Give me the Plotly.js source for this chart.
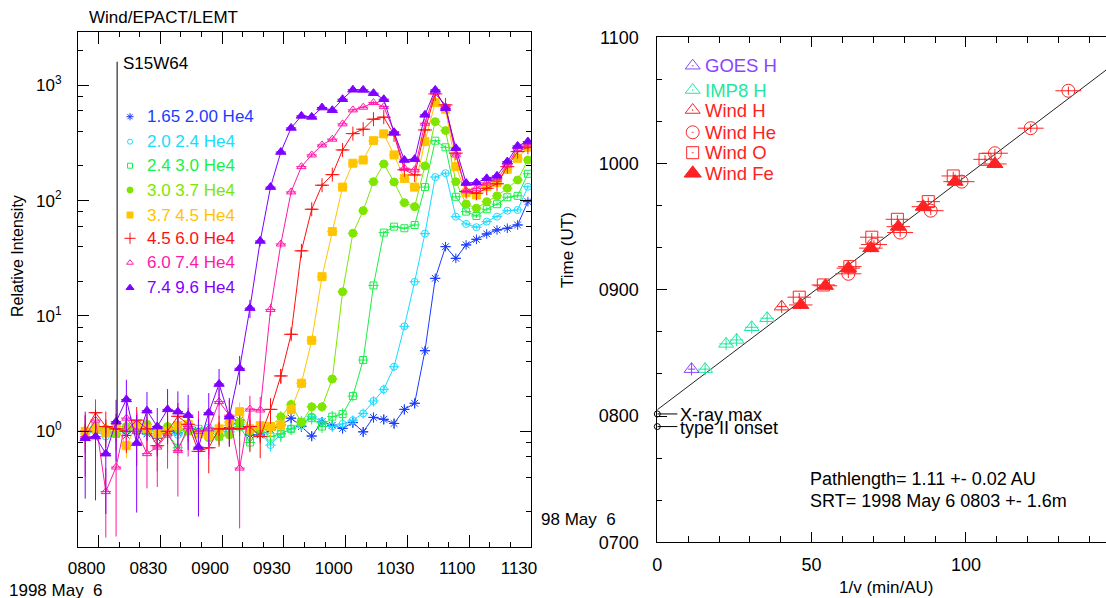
<!DOCTYPE html>
<html><head><meta charset="utf-8">
<script src="https://cdn.plot.ly/plotly-3.0.1.min.js"></script>
<style>html,body{margin:0;padding:0;overflow:hidden;background:#fff}#chart{width:1130px;height:598px}</style>
</head><body><div id="chart"></div>
<script>
// ---------------- LEFT PANEL DATA (time in minutes after 0800 UT, 1998 May 6) ----------------
const timeMin = [-6.5,-1.5,3.5,8.5,13.5,18.5,23.5,28.5,33.5,38.5,43.5,48.5,53.5,58.5,63.5,68.5,73.5,78.5,83.5,88.5,93.5,98.5,103.5,108.5,113.5,118.5,123.5,128.5,133.5,138.5,143.5,148.5,153.5,158.5,163.5,168.5,173.5,178.5,183.5,188.5,193.5,198.5,203.5,208.5];
const binHalfWidth = 2.5;
const xTickVals = [0,30,60,90,120,150,180,210];
const xTickText = ['0800','0830','0900','0930','1000','1030','1100','1130'];
const yTickVals = [1,10,100,1000];
const yTickText = ['10<sup>0</sup>','10<sup>1</sup>','10<sup>2</sup>','10<sup>3</sup>'];
const yMinorVals = [0.2,0.4,0.6,0.8,2,4,6,8,20,40,60,80,200,400,600,800,2000];
const flareTime = 9;          // S15W64 flare marker (0809)
const flareLabel = 'S15W64';

const chLabels = ['1.65 2.00 He4','2.0 2.4 He4','2.4 3.0 He4','3.0 3.7 He4','3.7 4.5 He4','4.5 6.0 He4','6.0 7.4 He4','7.4 9.6 He4'];

const he_165_200 = [1.0,1.05,0.97,1.1,0.92,1.08,0.95,0.87,1.08,0.97,1.1,1.02,0.96,1.05,1.08,1.25,0.93,0.93,1.03,1.13,1.30,1.10,0.91,1.21,1.13,1.06,1.19,0.99,1.32,1.27,1.17,1.55,1.75,5.0,21.2,39.9,31.6,41.3,46.2,51.4,55.7,57.6,61.5,98];
const he_20_24 = [0.95,1.0,0.9,0.95,1.05,1.0,0.98,1.05,1.0,0.93,1.05,1.0,1.08,1.02,0.98,1.15,1.0,0.98,0.76,0.95,1.05,1.12,1.34,1.21,1.10,1.16,1.25,1.43,1.83,2.31,3.63,8.13,19.8,51.8,160,173,72.6,62.8,58.8,65.8,72.6,81.9,83.0,132];
const he_24_30 = [1.0,1.1,1.02,0.95,1.05,1.1,1.0,1.05,0.95,0.72,1.0,1.05,1.0,0.9,1.0,1.1,0.8,1.05,0.9,0.95,1.05,1.21,1.30,1.10,1.34,1.41,2.02,4.15,18.4,52.8,59.5,57.6,61.5,131,331,290,108,80.3,73.6,84.2,93.1,107,110,171];
const he_30_37 = [1.0,1.08,1.05,0.95,1.1,1.0,1.15,0.95,1.1,1.05,1.0,0.95,0.88,0.9,0.93,1.2,1.0,1.05,1.1,1.34,1.71,1.19,1.63,1.63,2.84,16.2,52.1,81.9,146,208,145,96,88.7,200,484,405,146,93.6,85.9,98,110,128,151,225];
const he_37_45 = [1.0,1.05,0.97,1.1,0.75,1.15,1.05,0.95,1.0,1.12,1.15,0.95,0.92,1.05,1.2,1.48,1.05,1.12,1.1,1.13,1.55,2.61,6.15,21.9,53.9,131,211,225,331,379,249,156,131,325,708,620,197,117,112,132,143,187,233,290];
const he_45_60 = [1.0,1.45,1.1,1.05,1.0,1.25,1.05,0.75,1.0,1.35,1.15,0.67,0.72,1.05,1.05,1.05,1.10,0.90,1.55,3.02,6.94,36.7,84.2,136,168,275,381,416,508,529,371,185,167,410,842,676,258,120,116,128,140,197,266,290];
const he_60_74 = [0.90,1.25,0.30,0.49,1.30,1.0,0.64,0.73,0.95,0.68,1.1,1.0,1.05,1.81,1.38,0.48,1.56,1.53,11.4,42.1,119,197,249,304,341,463,612,646,708,653,397,191,185,469,881,653,249,122,128,142,153,204,285,304];
const he_74_96 = [0.87,0.90,0.64,1.21,1.89,0.79,1.51,1.10,1.55,1.48,1.38,0.73,1.45,2.57,1.34,3.52,11.7,44.7,131,264,427,543,532,641,608,757,915,912,854,757,389,225,229,554,912,633,285,142,143,156,164,218,298,325];

// relative (fractional) uncertainties
const rel_165_200 = [0.12,0.12,0.12,0.12,0.12,0.12,0.12,0.12,0.12,0.12,0.12,0.12,0.12,0.12,0.12,0.12,0.12,0.12,0.12,0.12,0.1,0.1,0.1,0.1,0.1,0.1,0.1,0.1,0.1,0.1,0.1,0.1,0.1,0.08,0.05,0.04,0.04,0.04,0.04,0.04,0.04,0.04,0.04,0.04];
const rel_20_24 = [0.12,0.12,0.12,0.12,0.12,0.12,0.12,0.12,0.12,0.12,0.12,0.12,0.12,0.12,0.12,0.12,0.12,0.12,0.12,0.12,0.1,0.1,0.1,0.1,0.1,0.1,0.1,0.1,0.1,0.1,0.08,0.06,0.05,0.04,0.04,0.04,0.04,0.04,0.04,0.04,0.04,0.04,0.04,0.04];
const rel_24_30 = [0.15,0.15,0.15,0.15,0.15,0.15,0.15,0.15,0.15,0.15,0.15,0.15,0.15,0.15,0.15,0.15,0.15,0.15,0.15,0.15,0.12,0.12,0.12,0.12,0.12,0.12,0.1,0.08,0.05,0.04,0.04,0.04,0.04,0.04,0.04,0.04,0.04,0.04,0.04,0.04,0.04,0.04,0.04,0.04];
const rel_30_37 = [0.15,0.15,0.15,0.15,0.15,0.15,0.15,0.15,0.15,0.15,0.15,0.15,0.15,0.15,0.15,0.15,0.15,0.15,0.15,0.12,0.1,0.12,0.1,0.1,0.08,0.05,0.04,0.04,0.04,0.04,0.04,0.04,0.04,0.04,0.04,0.04,0.04,0.04,0.04,0.04,0.04,0.04,0.04,0.04];
const rel_37_45 = [0.22,0.22,0.22,0.22,0.22,0.22,0.22,0.22,0.22,0.22,0.22,0.22,0.22,0.22,0.22,0.2,0.2,0.2,0.2,0.15,0.12,0.1,0.06,0.05,0.04,0.04,0.04,0.04,0.04,0.04,0.04,0.04,0.04,0.04,0.04,0.04,0.04,0.04,0.04,0.04,0.04,0.04,0.04,0.04];
const rel_45_60 = [0.35,0.3,0.35,0.35,0.35,0.3,0.35,0.4,0.35,0.3,0.3,0.4,0.4,0.3,0.3,0.3,0.4,0.35,0.25,0.15,0.1,0.05,0.04,0.04,0.04,0.04,0.04,0.04,0.04,0.04,0.04,0.04,0.04,0.04,0.04,0.04,0.04,0.04,0.04,0.04,0.04,0.04,0.04,0.04];
const rel_60_74 = [0.55,0.5,0.6,0.75,0.45,0.5,0.5,0.55,0.5,0.6,0.45,0.5,0.45,0.3,0.35,0.7,0.3,0.3,0.12,0.07,0.05,0.04,0.04,0.04,0.04,0.03,0.03,0.03,0.03,0.03,0.04,0.05,0.05,0.04,0.03,0.03,0.04,0.05,0.05,0.05,0.05,0.04,0.04,0.04];
const rel_74_96 = [0.7,0.72,0.7,0.55,0.48,0.75,0.45,0.45,0.5,0.5,0.5,0.75,0.48,0.35,0.45,0.28,0.18,0.1,0.06,0.05,0.04,0.04,0.04,0.04,0.04,0.03,0.03,0.03,0.03,0.03,0.04,0.05,0.05,0.04,0.03,0.03,0.04,0.05,0.05,0.05,0.05,0.04,0.04,0.04];

// ---------------- RIGHT PANEL DATA (1/v in min/AU, onset time in minutes of day) ----------------
const goesInvV = [11.1];
const goesT = [502.3];
const imp8InvV = [15.5,22.3,25.7,30.6,35.6];
const imp8T = [502.3,514.3,516.2,522.2,526.5];
const windHInvV = [40.3];
const windHT = [532.0];
const windHeInvV = [61.9,70.2,78.7,88.6,98.6,109.4,121.0,133.2];
const windHeT = [547.6,561.5,567.2,577.6,591.4,604.9,616.8,634.6];
const windOInvV = [46.0,53.8,62.4,69.5,77.8,87.8,95.9,106.2];
const windOT = [536.5,542.3,551.0,565.0,573.5,581.9,594.1,602.0];
const windFeInvV = [46.5,54.5,61.9,69.2,78.1,86.2,96.5,109.4];
const windFeT = [532.8,541.9,550.3,559.8,570.0,579.5,591.4,599.8];
const srtMin = 483;         // 0803 UT
const pathLength = 1.11;    // AU
const fitInvV = [0, 150];
const xrayMaxT = 481;       // 0801
const typeIIT = 475;        // 0755
const rTickVals = [420,480,540,600,660];
const rTickText = ['0700','0800','0900','1000','1100'];

// ---------------- LAYOUT GEOMETRY (pixels) ----------------
const W = 1130, H = 598;
const LP = {x0:78, x1:531, y0:32, y1:547};
const RP = {x0:657.3, x1:1120.2, y0:37.3, y1:542.3};
const xd = p => [p.x0/W, p.x1/W];
const yd = p => [(H-p.y1)/H, (H-p.y0)/H];
const FONT = 'Liberation Sans, Arial, sans-serif';

const colors = ['#1a3cff','#19dcff','#19f04a','#7ee600','#ffc400','#ff1010','#ff18a8','#8000ff'];
const symbols = ['asterisk-open','circle-open','square-open','circle','square','cross-thin-open','triangle-up-open','triangle-up'];
const sizes = [8,7,7,8,8,10,8,9];
const series = [he_165_200,he_20_24,he_24_30,he_30_37,he_37_45,he_45_60,he_60_74,he_74_96];
const rels = [rel_165_200,rel_20_24,rel_24_30,rel_30_37,rel_37_45,rel_45_60,rel_60_74,rel_74_96];

const traces = [];
series.forEach((vals, i) => {
  traces.push({
    type:'scatter', mode:'lines+markers', x: timeMin, y: vals, xaxis:'x', yaxis:'y',
    line:{color:colors[i], width:1},
    marker:{symbol:symbols[i], size:sizes[i], color:colors[i], line:{color:colors[i], width:1}},
    error_y:{type:'data', array: vals.map((v,k)=>v*rels[i][k]), color:colors[i], thickness:1, width:0},
    error_x:{type:'constant', value:binHalfWidth, color:colors[i], thickness:1, width:0},
    showlegend:false, cliponaxis:true
  });
});
// flare line
traces.push({type:'scatter', mode:'lines', x:[flareTime, flareTime], y:[1.15, 1600], xaxis:'x', yaxis:'y',
  line:{color:'#000', width:1}, showlegend:false});

// right panel
const wred = '#ff2222';
function rTrace(xs, ys, sym, col, size, ex, ey){
  return {type:'scatter', mode:'markers', x:xs, y:ys, xaxis:'x2', yaxis:'y2',
    marker:{symbol:sym, size:size, color:col, line:{color:col, width:1}},
    error_x:{type:'constant', value:ex, color:col, thickness:1, width:0},
    error_y:{type:'constant', value:ey, color:col, thickness:1, width:0},
    showlegend:false};
}
traces.push({type:'scatter', mode:'lines', x:fitInvV, y:fitInvV.map(v=>srtMin+pathLength*v), xaxis:'x2', yaxis:'y2',
  line:{color:'#222', width:1}, showlegend:false});
traces.push(rTrace(windOInvV, windOT, 'square-open-dot', wred, 12, 3.8, 2));
traces.push(rTrace(windHeInvV, windHeT, 'circle-open-dot', wred, 13, 4.2, 2));
traces.push(rTrace(windFeInvV, windFeT, 'triangle-up', wred, 14, 3.8, 2));
traces.push(rTrace(windHInvV, windHT, 'triangle-up-open-dot', wred, 13, 1.5, 3));
traces.push(rTrace(imp8InvV, imp8T, 'triangle-up-open-dot', '#22e8a0', 13, 2.2, 3));
traces.push(rTrace(goesInvV, goesT, 'triangle-up-open-dot', '#8844ff', 13, 1.2, 3));
// X-ray max / type II markers
[xrayMaxT, typeIIT].forEach(t => {
  traces.push({type:'scatter', mode:'lines', x:[0,6.5], y:[t,t], xaxis:'x2', yaxis:'y2', line:{color:'#000', width:1}, showlegend:false, cliponaxis:false});
});
traces.push({type:'scatter', mode:'markers', x:[0,0], y:[xrayMaxT, typeIIT], xaxis:'x2', yaxis:'y2',
  marker:{symbol:'circle-open', size:6, color:'#000', line:{width:1}}, showlegend:false, cliponaxis:false});

// legend glyphs on a pixel overlay
const leftLegY = [116.7,141.7,165.7,190,215,238.3,262.7,287.7];
const leftLegX = 130, leftLegTextX = 146.7;
leftLegY.forEach((y,i)=>{
  traces.push({type:'scatter', mode:'markers', x:[leftLegX], y:[y], xaxis:'x3', yaxis:'y3',
    marker:{symbol:symbols[i], size:sizes[i]-2, color:colors[i], line:{color:colors[i], width:1}}, showlegend:false});
});
const rightLeg = [
  {t:'GOES H', c:'#8844ff', s:'triangle-up-open-dot', z:13},
  {t:'IMP8 H', c:'#22e8a0', s:'triangle-up-open-dot', z:13},
  {t:'Wind H', c:wred, s:'triangle-up-open-dot', z:13},
  {t:'Wind He', c:wred, s:'circle-open-dot', z:13},
  {t:'Wind O', c:wred, s:'square-open-dot', z:12},
  {t:'Wind Fe', c:wred, s:'triangle-up', z:15}
];
const rightLegY = [65.7,90,110,132.3,152.7,173.3];
const rightLegX = 692.7, rightLegTextX = 705;
rightLeg.forEach((e,i)=>{
  traces.push({type:'scatter', mode:'markers', x:[rightLegX], y:[rightLegY[i]], xaxis:'x3', yaxis:'y3',
    marker:{symbol:e.s, size:e.z, color:e.c, line:{color:e.c, width:1}}, showlegend:false});
});

function P(x,y){ return {x:x/W, y:1-y/H, xref:'paper', yref:'paper'}; }
function ann(x,y,text,opts){ return Object.assign(P(x,y), {text:text, showarrow:false, xanchor:'left', yanchor:'middle', font:{family:FONT, size:17, color:'#000'}}, opts||{}); }
const F = (s,c) => ({family:FONT, size:s, color:c||'#000'});

const annotations = [
  ann(87,18,'Wind/EPACT/LEMT'),
  ann(121,63,flareLabel),
  ann(18,256,'Relative Intensity',{xanchor:'center', textangle:-90, font:F(16)}),
  ann(539,519,'98 May\u00a0\u00a06'),
  ann(7,590,'1998 May\u00a0\u00a06'),
  ann(568,250,'Time (UT)',{xanchor:'center', textangle:-90}),
  ann(886,587,'1/v (min/AU)',{xanchor:'center'}),
  ann(808,479,'Pathlength= 1.11 +- 0.02 AU',{font:F(18)}),
  ann(808,501,'SRT= 1998 May 6 0803 +- 1.6m',{font:F(18)}),
  ann(678,415,'X-ray max',{font:F(18)}),
  ann(678,428,'type II onset',{font:F(18)})
];
chLabels.forEach((t,i)=>annotations.push(ann(leftLegTextX-2, leftLegY[i], t, {font:F(17,colors[i])})));
rightLeg.forEach((e,i)=>annotations.push(ann(rightLegTextX-2, rightLegY[i], e.t, {font:F(18.5,e.c)})));

const axBase = {showgrid:false, zeroline:false, showline:true, linecolor:'#000', linewidth:1, mirror:'ticks',
  ticks:'inside', tickcolor:'#000', tickwidth:1, tickfont:{family:FONT, size:17, color:'#000'}};

const layout = {
  width:W, height:H, margin:{l:0,r:0,t:0,b:0}, paper_bgcolor:'#fff', plot_bgcolor:'rgba(0,0,0,0)',
  showlegend:false, font:{family:FONT, size:17, color:'#000'},
  xaxis: Object.assign({}, axBase, {domain:xd(LP), range:[-10,210], anchor:'y', tickmode:'array',
    tickvals:xTickVals, ticktext:xTickText, ticklen:12, ticklabelshift:-12, ticklabelstandoff:6,
    minor:{tickmode:'linear', tick0:0, dtick:10, ticks:'inside', ticklen:5, tickcolor:'#000', showgrid:false}}),
  yaxis: Object.assign({}, axBase, {domain:yd(LP), type:'log', range:[-1.003,3.462], anchor:'x', tickmode:'array',
    tickvals:yTickVals, ticktext:yTickText, ticklen:11, ticklabelstandoff:12,
    minor:{tickmode:'array', tickvals:yMinorVals, ticks:'inside', ticklen:5, tickcolor:'#000', showgrid:false}}),
  xaxis2: Object.assign({}, axBase, {domain:xd(RP), range:[0,150], anchor:'y2', tickmode:'array',
    tickvals:[0,50,100,150], ticktext:['0','50','100','150'], ticklen:10, ticklabelstandoff:6,
    tickfont:F(18), minor:{tickmode:'linear', tick0:0, dtick:10, ticks:'inside', ticklen:6, tickcolor:'#000', showgrid:false}}),
  yaxis2: Object.assign({}, axBase, {domain:yd(RP), range:[420,660], anchor:'x2', tickmode:'array',
    tickvals:rTickVals, ticktext:rTickText, ticklen:10, ticklabelstandoff:14,
    tickfont:F(18), minor:{tickmode:'linear', tick0:420, dtick:20, ticks:'inside', ticklen:5, tickcolor:'#000', showgrid:false}}),
  xaxis3: {domain:[0,1], range:[0,W], visible:false, anchor:'y3', fixedrange:true},
  yaxis3: {domain:[0,1], range:[H,0], visible:false, anchor:'x3', fixedrange:true},
  annotations: annotations
};

Plotly.newPlot('chart', traces, layout, {staticPlot:true, displayModeBar:false});
</script></body></html>
